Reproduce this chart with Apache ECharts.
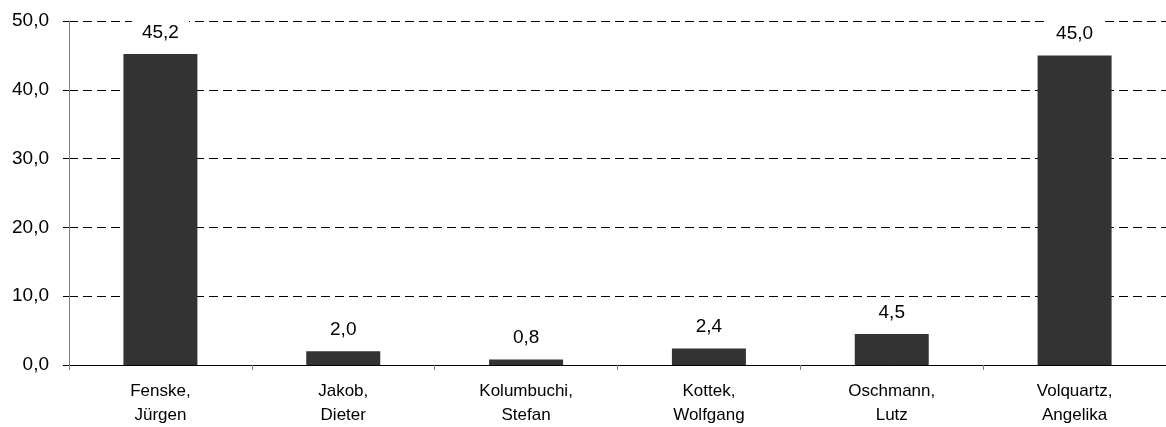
<!DOCTYPE html>
<html><head><meta charset="utf-8">
<script src="https://cdn.jsdelivr.net/npm/echarts@6/dist/echarts.min.js"></script>
<style>html,body{margin:0;padding:0;background:#fff}#c{width:1166px;height:427px}</style>
</head><body><div id="c"></div>
<script>
const categories = ['Fenske,\nJürgen','Jakob,\nDieter','Kolumbuchi,\nStefan','Kottek,\nWolfgang','Oschmann,\nLutz','Volquartz,\nAngelika'];
const values = [45.2, 2.0, 0.8, 2.4, 4.5, 45.0];
const yTicks = {min: 0, max: 50, interval: 10};
const fmt = v => v.toFixed(1).replace('.', ',');
const chart = echarts.init(document.getElementById('c'), null, {renderer: 'canvas'});
chart.setOption({
  animation: false,
  backgroundColor: '#fff',
  grid: {left: 69, top: 21, width: 1104, height: 346, containLabel: false},
  xAxis: {
    type: 'category', data: categories,
    axisLine: {lineStyle: {color: '#000', width: 1}},
    axisTick: {show: true, length: 5, lineStyle: {color: '#808080'}},
    axisLabel: {fontFamily: 'Liberation Sans', fontSize: 17, color: '#000', margin: 14, lineHeight: 24, interval: 0}
  },
  yAxis: {
    type: 'value', min: yTicks.min, max: yTicks.max, interval: yTicks.interval,
    axisLine: {show: true, lineStyle: {color: '#808080', width: 1}},
    axisTick: {show: true, length: 6, lineStyle: {color: '#000'}},
    axisLabel: {fontFamily: 'Liberation Sans', fontSize: 19, color: '#000', margin: 20, formatter: fmt},
    splitLine: {show: true, lineStyle: {color: '#000', width: 1, type: [9, 5]}}
  },
  series: [{
    type: 'bar', data: values, barWidth: 74,
    itemStyle: {color: '#333333'},
    label: {show: true, position: 'top', distance: 10, formatter: p => fmt(p.value),
      fontFamily: 'Liberation Sans', fontSize: 19, color: '#000',
      backgroundColor: '#fff', padding: [4, 10, 2, 10]}
  }]
});
</script></body></html>
